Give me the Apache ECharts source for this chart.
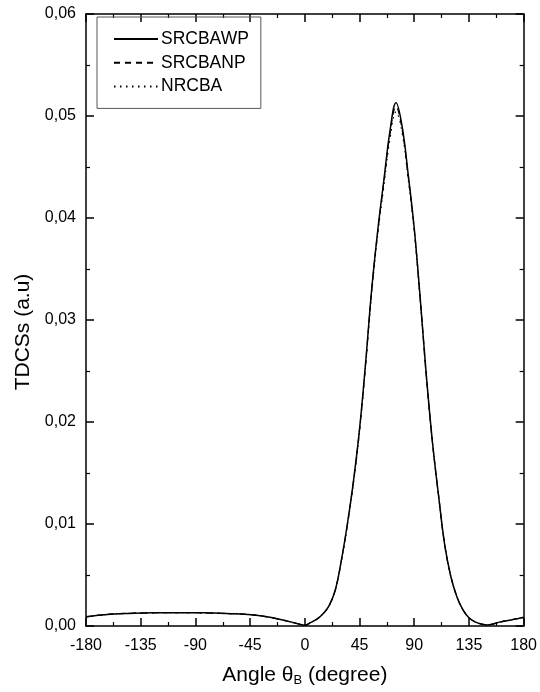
<!DOCTYPE html>
<html>
<head>
<meta charset="utf-8">
<script src="https://cdn.jsdelivr.net/npm/echarts@6/dist/echarts.min.js"></script>
<style>html,body{margin:0;padding:0;background:#fff}#c{width:540px;height:692px}</style>
</head>
<body>
<div id="c"></div>
<script>
// Angles (degree)
var angles = [-180,-170,-160,-150,-140,-130,-120,-110,-100,-90,-80,-70,-60,-50,-40,-30,-20,-10,-5,
  0,5,10,15,20,25,30,35,40,45,50,55,60,65,70,75,80,85,90,95,100,105,110,115,120,125,130,135,140,145,150,155,160,165,170,175,180];
var srcbawp = [0.00090,0.00105,0.00116,0.00122,0.00126,0.00128,0.00130,0.00130,0.00130,0.00130,0.00128,0.00125,0.00121,0.00116,0.00106,0.00088,0.00063,0.00035,0.00020,
  0.00008,0.00035,0.00068,0.00120,0.00200,0.00350,0.00640,0.01000,0.01420,0.01930,0.02580,0.03300,0.03880,0.04370,0.04850,0.05130,0.04900,0.04430,0.03900,0.03200,0.02450,0.01800,0.01280,0.00800,0.00490,0.00290,0.00160,0.00080,0.00040,0.00020,0.00010,0.00020,0.00038,0.00050,0.00060,0.00072,0.00085];
var srcbanp = [0.00090,0.00105,0.00116,0.00122,0.00126,0.00128,0.00130,0.00130,0.00130,0.00130,0.00128,0.00125,0.00121,0.00116,0.00106,0.00088,0.00063,0.00035,0.00020,
  0.00008,0.00035,0.00068,0.00120,0.00200,0.00350,0.00638,0.00995,0.01415,0.01925,0.02570,0.03290,0.03870,0.04350,0.04820,0.05090,0.04870,0.04410,0.03890,0.03195,0.02445,0.01800,0.01280,0.00800,0.00490,0.00290,0.00160,0.00080,0.00040,0.00020,0.00010,0.00020,0.00038,0.00050,0.00060,0.00072,0.00085];
var nrcba = [0.00090,0.00105,0.00116,0.00122,0.00126,0.00128,0.00130,0.00130,0.00130,0.00130,0.00128,0.00125,0.00121,0.00116,0.00106,0.00088,0.00063,0.00035,0.00020,
  0.00008,0.00035,0.00068,0.00120,0.00200,0.00348,0.00632,0.00985,0.01400,0.01905,0.02545,0.03260,0.03840,0.04310,0.04770,0.05040,0.04840,0.04380,0.03870,0.03180,0.02435,0.01795,0.01278,0.00800,0.00490,0.00290,0.00160,0.00080,0.00040,0.00020,0.00010,0.00020,0.00038,0.00050,0.00060,0.00072,0.00085];

function pairs(v){ return angles.map(function(a,i){ return [a, v[i]]; }); }

var font = 'Liberation Sans, Arial, sans-serif';
var axisLine = {show:true, onZero:false, lineStyle:{color:'#000', width:1.5}};
function xAx(pos, labels){
  return {type:'value', position:pos, min:-180, max:180, interval:45,
    axisLine:axisLine,
    axisTick:{show:true, inside:true, length:8, lineStyle:{color:'#000', width:1.5}},
    minorTick:{show:true, splitNumber:2, length:4, lineStyle:{color:'#000', width:1.2}},
    splitLine:{show:false}, minorSplitLine:{show:false},
    axisLabel:{show:labels, color:'#000', fontFamily:font, fontSize:16, margin:12},
    name: labels ? 'Angle θ{sub|B} (degree)' : '', nameLocation:'middle', nameGap:38,
    nameTextStyle:{color:'#000', fontFamily:font, fontSize:21,
      rich:{sub:{fontSize:13, verticalAlign:'bottom', padding:[10,0,0,0], fontFamily:font, color:'#000'}}}
  };
}
function yAx(pos, labels){
  return {type:'value', position:pos, min:0, max:0.06, interval:0.01,
    axisLine:axisLine,
    axisTick:{show:true, inside:true, length:8, lineStyle:{color:'#000', width:1.5}},
    minorTick:{show:true, splitNumber:2, length:4, lineStyle:{color:'#000', width:1.2}},
    splitLine:{show:false}, minorSplitLine:{show:false},
    axisLabel:{show:labels, color:'#000', fontFamily:font, fontSize:16, margin:10,
      formatter:function(v){ return v.toFixed(2).replace('.', ','); }},
    name: labels ? 'TDCSs (a.u)' : '', nameLocation:'middle', nameGap:52,
    nameTextStyle:{color:'#000', fontFamily:font, fontSize:21, padding:[0,24,0,0]}
  };
}

var chart = echarts.init(document.getElementById('c'), null, {renderer:'canvas'});
chart.setOption({
  backgroundColor:'#fff',
  animation:false,
  grid:{left:86, right:14, top:14, bottom:66},
  xAxis:[xAx('bottom', true), xAx('top', false)],
  yAxis:[yAx('left', true), yAx('right', false)],
  legend:{
    left:97, top:17, orient:'vertical',
    itemWidth:44, itemHeight:16, itemGap:5.7,
    padding:[13, 12, 13, 16],
    borderColor:'#555', borderWidth:1,
    itemStyle:{opacity:0},
    textStyle:{color:'#000', fontFamily:font, fontSize:17.5, lineHeight:16, padding:[0,0,0,-2]},
    data:['SRCBAWP','SRCBANP','NRCBA']
  },
  series:[
    {name:'SRCBAWP', type:'line', data:pairs(srcbawp), smooth:0.4, showSymbol:false, symbol:'none',
      lineStyle:{color:'#000', width:1.5, type:'solid'}, itemStyle:{color:'#000'}, z:3},
    {name:'SRCBANP', type:'line', data:pairs(srcbanp), smooth:0.4, showSymbol:false, symbol:'none',
      lineStyle:{color:'#000', width:1.2, type:[6,5]}, itemStyle:{color:'#000'}, z:4},
    {name:'NRCBA', type:'line', data:pairs(nrcba), smooth:0.4, showSymbol:false, symbol:'none',
      lineStyle:{color:'#000', width:1.2, type:[1.5,4.5]}, itemStyle:{color:'#000'}, z:5}
  ]
});
</script>
</body>
</html>
